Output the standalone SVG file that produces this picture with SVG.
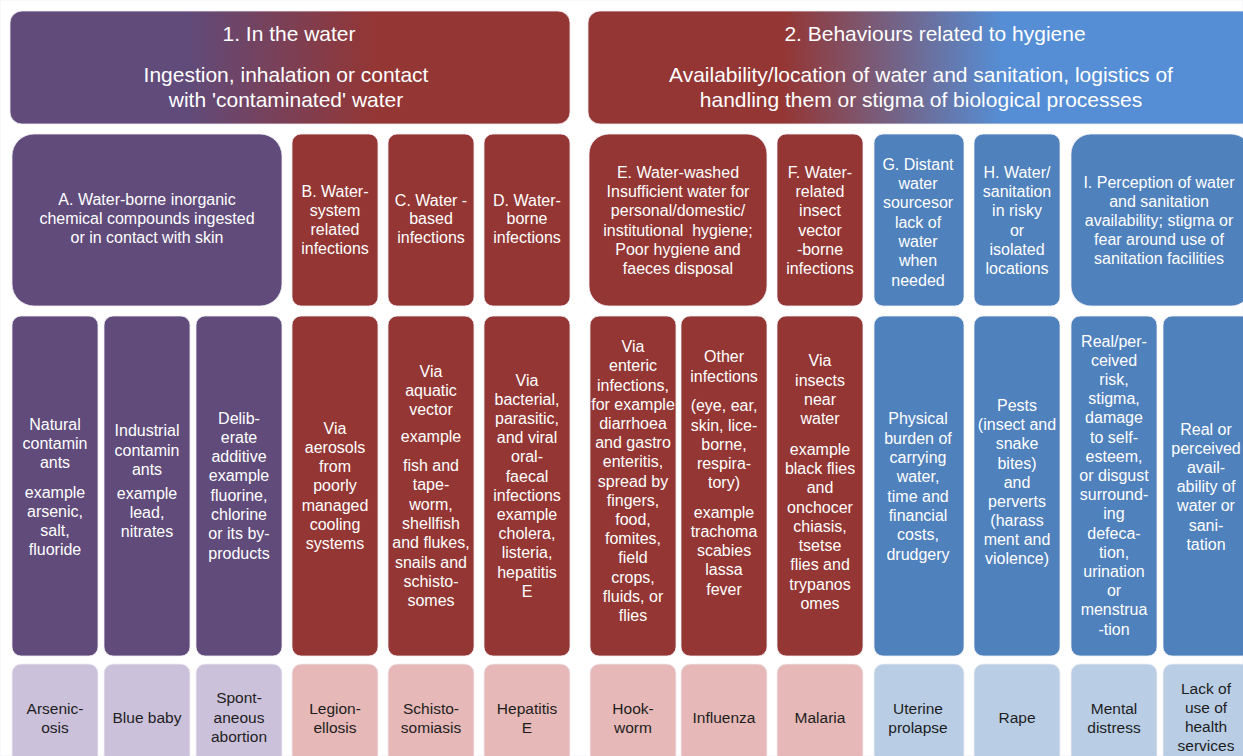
<svg xmlns="http://www.w3.org/2000/svg" width="1243" height="756" viewBox="0 0 1243 756">
<defs>
<linearGradient id="g1" gradientUnits="userSpaceOnUse" x1="186" y1="0" x2="376" y2="0">
<stop offset="0" stop-color="#604b7b"/><stop offset="1" stop-color="#943634"/>
</linearGradient>
<linearGradient id="g2" gradientUnits="userSpaceOnUse" x1="783" y1="0" x2="1003" y2="0">
<stop offset="0" stop-color="#943634"/><stop offset="1" stop-color="#558ed5"/>
</linearGradient>
</defs>
<style>
rect{stroke:#f0eef2;stroke-width:0.8}
.pu{fill:#604b7b}.rd{fill:#943634}.bl{fill:#4f81bd}
.lpu{fill:#ccc1da}.lrd{fill:#e6b8b7}.lbl{fill:#b9cde5}
text{font-family:"Liberation Sans",Arial,sans-serif;text-anchor:middle}
.h{font-size:21px;fill:#ffffff}
.t{font-size:16px;fill:#ffffff}
.d{font-size:15.5px;fill:#1e1e1e}
.pre{white-space:pre}
</style>
<rect width="1243" height="756" fill="#ffffff" stroke="none"/>
<g id="connectors"/>
<g id="header1">
<rect x="10" y="11" width="560" height="113" rx="12" fill="url(#g1)"/>
<text class="h" x="289" y="41">1. In the water</text>
<text class="h"><tspan x="286" y="82">Ingestion, inhalation or contact</tspan><tspan x="286" y="107">with 'contaminated' water</tspan></text>
</g>
<g id="header2">
<rect x="588" y="11" width="700" height="113" rx="12" fill="url(#g2)"/>
<text class="h" x="935" y="41">2. Behaviours related to hygiene</text>
<text class="h"><tspan x="921" y="82">Availability/location of water and sanitation, logistics of</tspan><tspan x="921" y="107">handling them or stigma of biological processes</tspan></text>
</g>
<g id="catA">
<rect class="pu" x="12" y="134" width="270" height="172" rx="22"/>
<text class="t"><tspan x="147" y="204.5">A. Water-borne inorganic</tspan><tspan x="147" y="223.8">chemical compounds ingested</tspan><tspan x="147" y="243.1">or in contact with skin</tspan></text>
</g>
<g id="catB">
<rect class="rd" x="292" y="134" width="86" height="172" rx="9"/>
<text class="t"><tspan x="335" y="196.5">B. Water-</tspan><tspan x="335" y="215.5">system</tspan><tspan x="335" y="234.5">related</tspan><tspan x="335" y="253.5">infections</tspan></text>
</g>
<g id="catC">
<rect class="rd" x="388" y="134" width="86" height="172" rx="9"/>
<text class="t"><tspan x="431" y="205.5">C. Water -</tspan><tspan x="431" y="224.3">based</tspan><tspan x="431" y="243">infections</tspan></text>
</g>
<g id="catD">
<rect class="rd" x="484" y="134" width="86" height="172" rx="9"/>
<text class="t"><tspan x="527" y="205.5">D. Water-</tspan><tspan x="527" y="224.3">borne</tspan><tspan x="527" y="243">infections</tspan></text>
</g>
<g id="catE">
<rect class="rd" x="589" y="134" width="178" height="172" rx="20"/>
<text class="t"><tspan x="678" y="178.2">E. Water-washed</tspan><tspan x="678" y="197.3">Insufficient water for</tspan><tspan x="678" y="216.4">personal/domestic/</tspan><tspan class="pre" x="678" y="235.5">institutional  hygiene;</tspan><tspan x="678" y="254.6">Poor hygiene and</tspan><tspan x="678" y="273.7">faeces disposal</tspan></text>
</g>
<g id="catF">
<rect class="rd" x="777" y="134" width="86" height="172" rx="9"/>
<text class="t"><tspan x="820" y="178.2">F. Water-</tspan><tspan x="820" y="197.3">related</tspan><tspan x="820" y="216.4">insect</tspan><tspan x="820" y="235.5">vector</tspan><tspan x="820" y="254.6">-borne</tspan><tspan x="820" y="273.7">infections</tspan></text>
</g>
<g id="catG">
<rect class="bl" x="874" y="134" width="90" height="172" rx="9"/>
<text class="t"><tspan x="918" y="169.8">G. Distant</tspan><tspan x="918" y="189.1">water</tspan><tspan x="918" y="208.4">sourcesor</tspan><tspan x="918" y="227.7">lack of</tspan><tspan x="918" y="247">water</tspan><tspan x="918" y="266.3">when</tspan><tspan x="918" y="285.6">needed</tspan></text>
</g>
<g id="catH">
<rect class="bl" x="974" y="134" width="86" height="172" rx="9"/>
<text class="t"><tspan x="1017" y="178.2">H. Water/</tspan><tspan x="1017" y="197.3">sanitation</tspan><tspan x="1017" y="216.4">in risky</tspan><tspan x="1017" y="235.5">or</tspan><tspan x="1017" y="254.6">isolated</tspan><tspan x="1017" y="273.7">locations</tspan></text>
</g>
<g id="catI">
<rect class="bl" x="1071" y="134" width="180" height="172" rx="20"/>
<text class="t"><tspan x="1159" y="187.8">I. Perception of water</tspan><tspan x="1159" y="206.8">and sanitation</tspan><tspan x="1159" y="225.8">availability; stigma or</tspan><tspan x="1159" y="244.8">fear around use of</tspan><tspan x="1159" y="263.8">sanitation facilities</tspan></text>
</g>
<g id="pathA1">
<rect class="pu" x="12" y="316" width="86" height="340" rx="9"/>
<text class="t"><tspan x="55" y="429.5">Natural</tspan><tspan x="55" y="449">contamin</tspan><tspan x="55" y="468">ants</tspan><tspan x="55" y="497.5">example</tspan><tspan x="55" y="516.5">arsenic,</tspan><tspan x="55" y="535.5">salt,</tspan><tspan x="55" y="554.5">fluoride</tspan></text>
</g>
<g id="pathA2">
<rect class="pu" x="104" y="316" width="86" height="340" rx="9"/>
<text class="t"><tspan x="147" y="436">Industrial</tspan><tspan x="147" y="455.5">contamin</tspan><tspan x="147" y="474.5">ants</tspan><tspan x="147" y="498.5">example</tspan><tspan x="147" y="517.5">lead,</tspan><tspan x="147" y="537">nitrates</tspan></text>
</g>
<g id="pathA3">
<rect class="pu" x="196" y="316" width="86" height="340" rx="9"/>
<text class="t"><tspan x="239" y="423.5">Delib-</tspan><tspan x="239" y="442.8">erate</tspan><tspan x="239" y="462.1">additive</tspan><tspan x="239" y="481.4">example</tspan><tspan x="239" y="500.7">fluorine,</tspan><tspan x="239" y="520">chlorine</tspan><tspan x="239" y="539.3">or its by-</tspan><tspan x="239" y="558.6">products</tspan></text>
</g>
<g id="pathB">
<rect class="rd" x="292" y="316" width="86" height="340" rx="9"/>
<text class="t"><tspan x="335" y="433.5">Via</tspan><tspan x="335" y="452.8">aerosols</tspan><tspan x="335" y="472.1">from</tspan><tspan x="335" y="491.4">poorly</tspan><tspan x="335" y="510.7">managed</tspan><tspan x="335" y="530">cooling</tspan><tspan x="335" y="549.3">systems</tspan></text>
</g>
<g id="pathC">
<rect class="rd" x="388" y="316" width="86" height="340" rx="9"/>
<text class="t"><tspan x="431" y="376.5">Via</tspan><tspan x="431" y="395.8">aquatic</tspan><tspan x="431" y="415.1">vector</tspan><tspan x="431" y="441.5">example</tspan><tspan x="431" y="471">fish and</tspan><tspan x="431" y="490.3">tape-</tspan><tspan x="431" y="509.6">worm,</tspan><tspan x="431" y="528.9">shellfish</tspan><tspan x="431" y="548.2">and flukes,</tspan><tspan x="431" y="567.5">snails and</tspan><tspan x="431" y="586.8">schisto-</tspan><tspan x="431" y="606.1">somes</tspan></text>
</g>
<g id="pathD">
<rect class="rd" x="484" y="316" width="86" height="340" rx="9"/>
<text class="t"><tspan x="527" y="385.5">Via</tspan><tspan x="527" y="404.7">bacterial,</tspan><tspan x="527" y="423.9">parasitic,</tspan><tspan x="527" y="443.1">and viral</tspan><tspan x="527" y="462.3">oral-</tspan><tspan x="527" y="481.5">faecal</tspan><tspan x="527" y="500.7">infections</tspan><tspan x="527" y="519.9">example</tspan><tspan x="527" y="539.1">cholera,</tspan><tspan x="527" y="558.3">listeria,</tspan><tspan x="527" y="577.5">hepatitis</tspan><tspan x="527" y="596.7">E</tspan></text>
</g>
<g id="pathE1">
<rect class="rd" x="590" y="316" width="86" height="340" rx="9"/>
<text class="t"><tspan x="633" y="352.2">Via</tspan><tspan x="633" y="371.4">enteric</tspan><tspan x="633" y="390.6">infections,</tspan><tspan x="633" y="409.8">for example</tspan><tspan x="633" y="429">diarrhoea</tspan><tspan x="633" y="448.2">and gastro</tspan><tspan x="633" y="467.4">enteritis,</tspan><tspan x="633" y="486.6">spread by</tspan><tspan x="633" y="505.8">fingers,</tspan><tspan x="633" y="525">food,</tspan><tspan x="633" y="544.2">fomites,</tspan><tspan x="633" y="563.4">field</tspan><tspan x="633" y="582.6">crops,</tspan><tspan x="633" y="601.8">fluids, or</tspan><tspan x="633" y="621">flies</tspan></text>
</g>
<g id="pathE2">
<rect class="rd" x="681" y="316" width="86" height="340" rx="9"/>
<text class="t"><tspan x="724" y="362.2">Other</tspan><tspan x="724" y="381.7">infections</tspan><tspan x="724" y="411.2">(eye, ear,</tspan><tspan x="724" y="430.5">skin, lice-</tspan><tspan x="724" y="449.7">borne,</tspan><tspan x="724" y="469">respira-</tspan><tspan x="724" y="488.2">tory)</tspan><tspan x="724" y="517.8">example</tspan><tspan x="724" y="537">trachoma</tspan><tspan x="724" y="556.2">scabies</tspan><tspan x="724" y="575.4">lassa</tspan><tspan x="724" y="594.6">fever</tspan></text>
</g>
<g id="pathF">
<rect class="rd" x="777" y="316" width="86" height="340" rx="9"/>
<text class="t"><tspan x="820" y="366.2">Via</tspan><tspan x="820" y="385.5">insects</tspan><tspan x="820" y="404.8">near</tspan><tspan x="820" y="424.1">water</tspan><tspan x="820" y="454.8">example</tspan><tspan x="820" y="474">black flies</tspan><tspan x="820" y="493.3">and</tspan><tspan x="820" y="512.5">onchocer</tspan><tspan x="820" y="531.8">chiasis,</tspan><tspan x="820" y="551">tsetse</tspan><tspan x="820" y="570.3">flies and</tspan><tspan x="820" y="589.5">trypanos</tspan><tspan x="820" y="608.8">omes</tspan></text>
</g>
<g id="pathG">
<rect class="bl" x="874" y="316" width="90" height="340" rx="9"/>
<text class="t"><tspan x="918" y="424.2">Physical</tspan><tspan x="918" y="443.6">burden of</tspan><tspan x="918" y="462.9">carrying</tspan><tspan x="918" y="482.3">water,</tspan><tspan x="918" y="501.7">time and</tspan><tspan x="918" y="521">financial</tspan><tspan x="918" y="540.4">costs,</tspan><tspan x="918" y="559.8">drudgery</tspan></text>
</g>
<g id="pathH">
<rect class="bl" x="974" y="316" width="86" height="340" rx="9"/>
<text class="t"><tspan x="1017" y="411.2">Pests</tspan><tspan x="1017" y="430.3">(insect and</tspan><tspan x="1017" y="449.4">snake</tspan><tspan x="1017" y="468.5">bites)</tspan><tspan x="1017" y="487.6">and</tspan><tspan x="1017" y="506.7">perverts</tspan><tspan x="1017" y="525.8">(harass</tspan><tspan x="1017" y="544.9">ment and</tspan><tspan x="1017" y="564">violence)</tspan></text>
</g>
<g id="pathI1">
<rect class="bl" x="1071" y="316" width="86" height="340" rx="9"/>
<text class="t"><tspan x="1114" y="346.5">Real/per-</tspan><tspan x="1114" y="365.7">ceived</tspan><tspan x="1114" y="384.9">risk,</tspan><tspan x="1114" y="404.1">stigma,</tspan><tspan x="1114" y="423.3">damage</tspan><tspan x="1114" y="442.5">to self-</tspan><tspan x="1114" y="461.7">esteem,</tspan><tspan x="1114" y="480.9">or disgust</tspan><tspan x="1114" y="500.1">surround-</tspan><tspan x="1114" y="519.3">ing</tspan><tspan x="1114" y="538.5">defeca-</tspan><tspan x="1114" y="557.7">tion,</tspan><tspan x="1114" y="576.9">urination</tspan><tspan x="1114" y="596.1">or</tspan><tspan x="1114" y="615.3">menstrua</tspan><tspan x="1114" y="634.5">-tion</tspan></text>
</g>
<g id="pathI2">
<rect class="bl" x="1163" y="316" width="88" height="340" rx="9"/>
<text class="t"><tspan x="1206" y="434.5">Real or</tspan><tspan x="1206" y="453.7">perceived</tspan><tspan x="1206" y="472.9">avail-</tspan><tspan x="1206" y="492.1">ability of</tspan><tspan x="1206" y="511.3">water or</tspan><tspan x="1206" y="530.5">sani-</tspan><tspan x="1206" y="549.7">tation</tspan></text>
</g>
<g id="outArsenicosis">
<rect class="lpu" x="12" y="664" width="86" height="100" rx="9"/>
<text class="d"><tspan x="55" y="713.8">Arsenic-</tspan><tspan x="55" y="732.5">osis</tspan></text>
</g>
<g id="outBlueBaby">
<rect class="lpu" x="104" y="664" width="86" height="100" rx="9"/>
<text class="d" x="147" y="723">Blue baby</text>
</g>
<g id="outAbortion">
<rect class="lpu" x="196" y="664" width="86" height="100" rx="9"/>
<text class="d"><tspan x="239" y="703.2">Spont-</tspan><tspan x="239" y="722.5">aneous</tspan><tspan x="239" y="741.8">abortion</tspan></text>
</g>
<g id="outLegionellosis">
<rect class="lrd" x="292" y="664" width="86" height="100" rx="9"/>
<text class="d"><tspan x="335" y="713.8">Legion-</tspan><tspan x="335" y="732.5">ellosis</tspan></text>
</g>
<g id="outSchistosomiasis">
<rect class="lrd" x="388" y="664" width="86" height="100" rx="9"/>
<text class="d"><tspan x="431" y="713.8">Schisto-</tspan><tspan x="431" y="732.5">somiasis</tspan></text>
</g>
<g id="outHepatitis">
<rect class="lrd" x="484" y="664" width="86" height="100" rx="9"/>
<text class="d"><tspan x="527" y="713.8">Hepatitis</tspan><tspan x="527" y="732.5">E</tspan></text>
</g>
<g id="outHookworm">
<rect class="lrd" x="590" y="664" width="86" height="100" rx="9"/>
<text class="d"><tspan x="633" y="713.8">Hook-</tspan><tspan x="633" y="732.5">worm</tspan></text>
</g>
<g id="outInfluenza">
<rect class="lrd" x="681" y="664" width="86" height="100" rx="9"/>
<text class="d" x="724" y="723">Influenza</text>
</g>
<g id="outMalaria">
<rect class="lrd" x="777" y="664" width="86" height="100" rx="9"/>
<text class="d" x="820" y="723">Malaria</text>
</g>
<g id="outUterine">
<rect class="lbl" x="874" y="664" width="90" height="100" rx="9"/>
<text class="d"><tspan x="918" y="713.8">Uterine</tspan><tspan x="918" y="732.5">prolapse</tspan></text>
</g>
<g id="outRape">
<rect class="lbl" x="974" y="664" width="86" height="100" rx="9"/>
<text class="d" x="1017" y="723">Rape</text>
</g>
<g id="outMental">
<rect class="lbl" x="1071" y="664" width="86" height="100" rx="9"/>
<text class="d"><tspan x="1114" y="713.8">Mental</tspan><tspan x="1114" y="732.5">distress</tspan></text>
</g>
<g id="outHealth">
<rect class="lbl" x="1163" y="664" width="88" height="100" rx="9"/>
<text class="d"><tspan x="1206" y="693.8">Lack of</tspan><tspan x="1206" y="713">use of</tspan><tspan x="1206" y="732.2">health</tspan><tspan x="1206" y="751.4">services</tspan></text>
</g>
</svg>
